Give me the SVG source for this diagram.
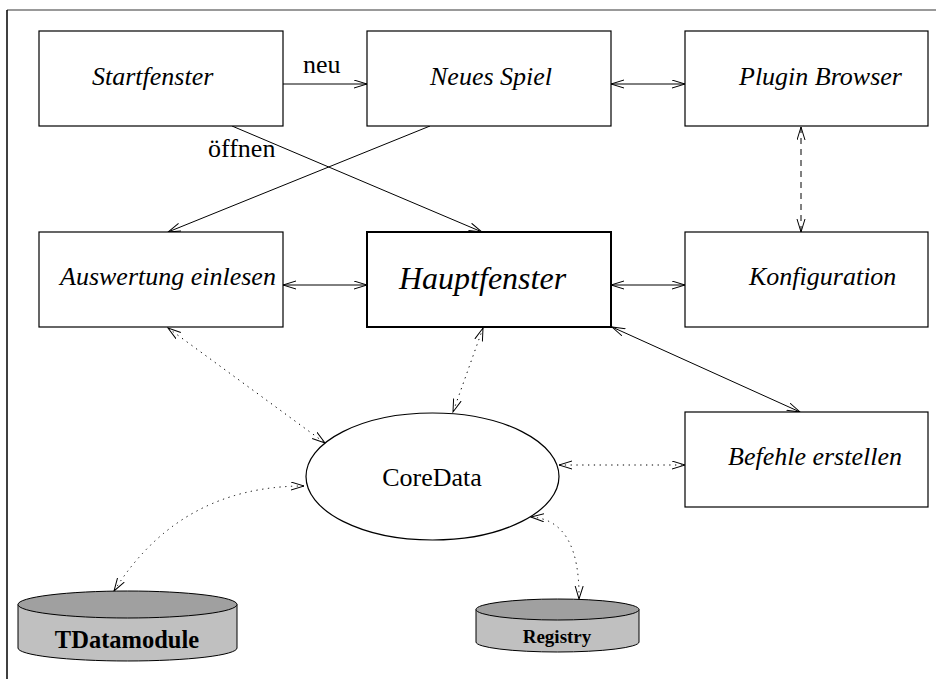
<svg xmlns="http://www.w3.org/2000/svg" width="936" height="679" viewBox="0 0 936 679">
<style>
.box{fill:#fff;stroke:#000;stroke-width:1.2}
.main{fill:#fff;stroke:#000;stroke-width:2}
.lbl{font-family:"Liberation Serif","Times New Roman",serif;font-style:italic;font-size:26px;fill:#000}
.big{font-size:32px}
.txt{font-family:"Liberation Serif","Times New Roman",serif;font-size:26px;fill:#000}
.db{font-family:"Liberation Serif","Times New Roman",serif;font-weight:bold;fill:#000}
.c{fill:none;stroke:#000;stroke-width:1}
.dot{stroke-dasharray:1.3 4.5}
.dash{stroke-dasharray:6 5}
.ar{marker-end:url(#ah)}
.bi{marker-start:url(#ah);marker-end:url(#ah)}
</style>
<defs>
<marker id="ah" markerWidth="14" markerHeight="10" refX="13" refY="4.5" orient="auto-start-reverse" markerUnits="userSpaceOnUse">
<path d="M0,0.5 L13,4.5 L0,8.5" fill="none" stroke="#000" stroke-width="1"/>
</marker>
</defs>
<rect width="936" height="679" fill="#fff"/>
<line x1="7" y1="10" x2="936" y2="10" stroke="#777" stroke-width="1.5"/>
<line x1="7" y1="10" x2="7" y2="679" stroke="#000" stroke-width="1.5"/>
<g id="connectors">
<line class="c ar" x1="283" y1="84" x2="367" y2="84"/>
<text class="txt" x="303" y="73">neu</text>
<line class="c bi" x1="611" y1="84" x2="685" y2="84"/>
<line class="c ar" x1="232" y1="126" x2="482" y2="232"/>
<text class="txt" x="208" y="157">öffnen</text>
<line class="c ar" x1="430" y1="126" x2="168" y2="232"/>
<line class="c dash bi" x1="801" y1="127" x2="801" y2="232"/>
<line class="c bi" x1="283" y1="285" x2="367" y2="285"/>
<line class="c bi" x1="611" y1="285" x2="685" y2="285"/>
<line class="c bi" x1="612" y1="327" x2="800" y2="412"/>
<line class="c dot bi" x1="168" y1="328" x2="325" y2="443"/>
<line class="c dot bi" x1="483" y1="328" x2="453" y2="412"/>
<line class="c dot bi" x1="559" y1="465" x2="685" y2="465"/>
<path class="c dot bi" d="M304 486 Q180 486 114 591"/>
<path class="c dot bi" d="M531 517 Q580 520 579 599"/>
</g>
<g id="startfenster"><rect class="box" x="39" y="31" width="244" height="95"/><text class="lbl" x="92" y="85">Startfenster</text></g>
<g id="neues-spiel"><rect class="box" x="367" y="31" width="244" height="95"/><text class="lbl" x="430" y="85">Neues Spiel</text></g>
<g id="plugin-browser"><rect class="box" x="685" y="31" width="243" height="95"/><text class="lbl" x="739" y="85">Plugin Browser</text></g>
<g id="auswertung"><rect class="box" x="39" y="232" width="244" height="95"/><text class="lbl" x="60" y="285">Auswertung einlesen</text></g>
<g id="hauptfenster"><rect class="main" x="367" y="232" width="244" height="95"/><text class="lbl big" x="399" y="289">Hauptfenster</text></g>
<g id="konfiguration"><rect class="box" x="685" y="232" width="243" height="95"/><text class="lbl" x="749" y="285">Konfiguration</text></g>
<g id="befehle"><rect class="box" x="685" y="412" width="243" height="95"/><text class="lbl" x="728" y="465">Befehle erstellen</text></g>
<g id="coredata"><ellipse cx="432.5" cy="476.5" rx="126.5" ry="63.5" fill="#fff" stroke="#000" stroke-width="1.2"/><text class="txt" x="432" y="486" text-anchor="middle">CoreData</text></g>
<g id="tdatamodule">
<path d="M18 604.5 L18 648 A109.5 13 0 0 0 237 648 L237 604.5 Z" fill="#c0c0c0" stroke="#000" stroke-width="1"/>
<ellipse cx="127.5" cy="604.5" rx="109.5" ry="13.5" fill="#a0a0a0" stroke="#000" stroke-width="1"/>
<text class="db" x="127" y="648" font-size="24.5" text-anchor="middle">TDatamodule</text>
</g>
<g id="registry">
<path d="M476 609.5 L476 642 A81.5 10 0 0 0 639 642 L639 609.5 Z" fill="#c0c0c0" stroke="#000" stroke-width="1"/>
<ellipse cx="557.5" cy="609.5" rx="81.5" ry="10.5" fill="#a0a0a0" stroke="#000" stroke-width="1"/>
<text class="db" x="557" y="643" font-size="19" text-anchor="middle">Registry</text>
</g>
</svg>
